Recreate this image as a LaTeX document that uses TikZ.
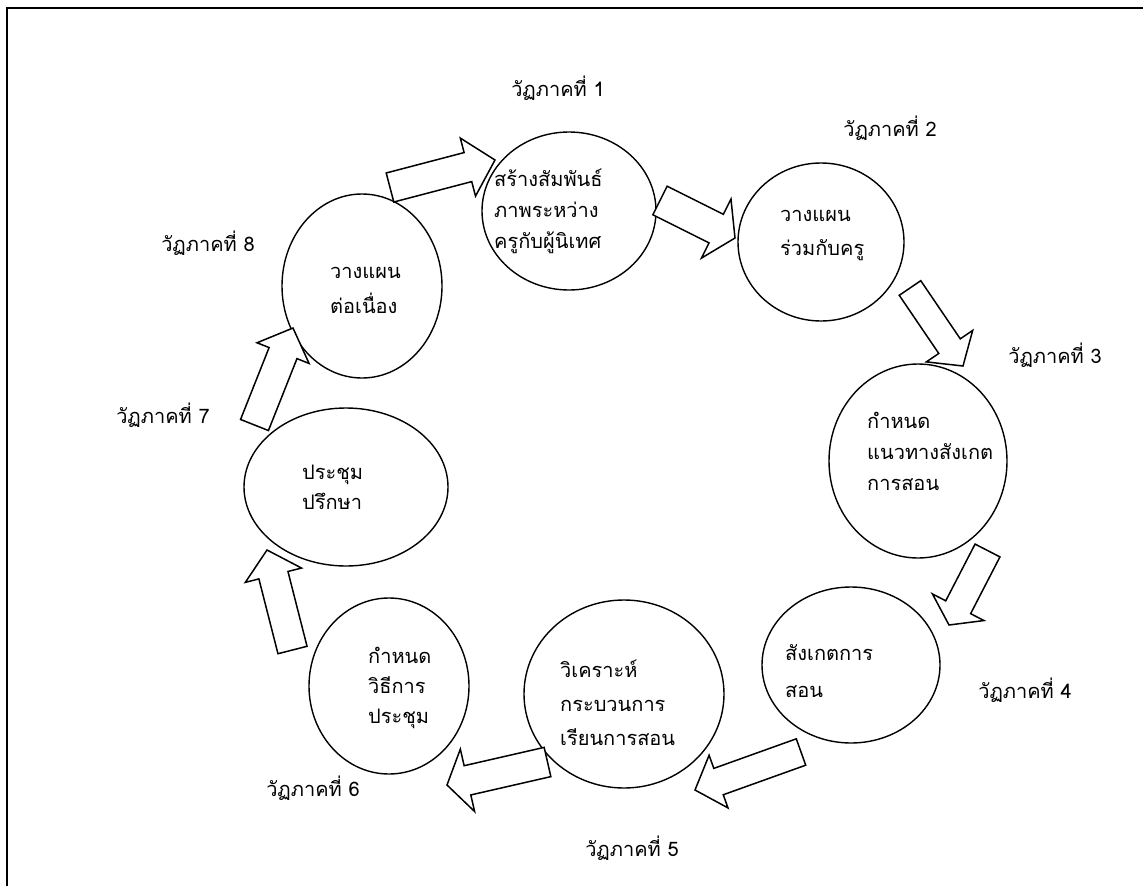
\documentclass[tikz,border=0pt]{standalone}
\usepackage{fontspec}
\newfontfamily\thaifont[Script=Thai]{Loma}
\usetikzlibrary{shapes.geometric,calc}
\tikzset{
  stage/.style={ellipse,draw,line width=1.4pt,inner sep=0pt},
  arrowbox/.style={draw,line width=1.5pt,fill=white,line join=miter},
  lbl/.style={font=\thaifont\fontsize{20}{24}\selectfont,inner sep=0pt},
  ctext/.style={font=\thaifont\fontsize{20}{#1}\selectfont,align=left,anchor=west,inner sep=0pt},
  ctext/.default=31,
}
\newcommand\blockarrow[6]{%
  \coordinate (#1-a) at #2;
  \coordinate (#1-t) at #3;
  \coordinate (#1-h) at ($(#1-t)!#6!(#1-a)$);
  \draw[arrowbox] ($(#1-a)!#4!90:(#1-t)$) -- ($(#1-h)!#4!-90:(#1-a)$) -- ($(#1-h)!#5!-90:(#1-a)$) -- (#1-t) -- ($(#1-h)!#5!90:(#1-a)$) -- ($(#1-h)!#4!90:(#1-a)$) -- ($(#1-a)!#4!-90:(#1-t)$) -- cycle;
}
\begin{document}
\begin{tikzpicture}[x=1pt,y=-1pt]
\useasboundingbox (0,0) rectangle (1143,886);
\draw[line width=2.5pt] (7,886) -- (7,8) -- (1143,8);
% stages
\node[stage,minimum width=174pt,minimum height=158pt] (c1) at (569,211) {};
\node[stage,minimum width=166pt,minimum height=158pt] (c2) at (821,242) {};
\node[stage,minimum width=178pt,minimum height=194pt] (c3) at (918,461) {};
\node[stage,minimum width=178pt,minimum height=156pt] (c4) at (851,665) {};
\node[stage,minimum width=200pt,minimum height=188pt] (c5) at (624,694) {};
\node[stage,minimum width=160pt,minimum height=176pt] (c6) at (389,686) {};
\node[stage,minimum width=204pt,minimum height=158pt] (c7) at (346,487) {};
\node[stage,minimum width=160pt,minimum height=184pt] (c8) at (362,286) {};
% arrows
\blockarrow{a1}{(390,187.5)}{(495,160)}{15pt}{30pt}{28pt}
\blockarrow{a2}{(660,200.5)}{(735,238)}{16pt}{33pt}{21pt}
\blockarrow{a3}{(910,288)}{(963,366)}{13pt}{28pt}{24pt}
\blockarrow{a4}{(987.5,550.5)}{(949,625)}{14pt}{29pt}{20pt}
\blockarrow{a5}{(801,752)}{(695,790)}{14pt}{28pt}{25pt}
\blockarrow{a6}{(547.5,762)}{(447,785)}{15pt}{32pt}{21pt}
\blockarrow{a7}{(292.5,650)}{(267,550)}{15pt}{29pt}{26pt}
\blockarrow{a8}{(254.5,425)}{(293,328)}{15pt}{28pt}{27pt}
% stage texts
\node[ctext] (t1) at (494,211) {สร้างสัมพันธ์\\ภาพระหว่าง\\ครูกับผู้นิเทศ};
\node[ctext=34] (t2) at (780,235) {วางแผน\\ร่วมกับครู};
\node[ctext] (t3) at (867,451) {กำหนด\\แนวทางสังเกต\\การสอน};
\node[ctext=37] (t4) at (785,671) {สังเกตการ\\สอน};
\node[ctext=34] (t5) at (560,703) {วิเคราะห์\\กระบวนการ\\เรียนการสอน};
\node[ctext=30] (t6) at (368,688) {กำหนด\\วิธีการ\\ประชุม};
\node[ctext=30] (t7) at (302,487) {ประชุม\\ปรึกษา};
\node[ctext=35] (t8) at (330,290) {วางแผน\\ต่อเนื่อง};
% phase labels
\node[lbl] (l1) at (558,88) {วัฏภาคที่ 1};
\node[lbl] (l2) at (890,128) {วัฏภาคที่ 2};
\node[lbl] (l3) at (1055,355) {วัฏภาคที่ 3};
\node[lbl] (l4) at (1025,690) {วัฏภาคที่ 4};
\node[lbl] (l5) at (632,848) {วัฏภาคที่ 5};
\node[lbl] (l6) at (313,788) {วัฏภาคที่ 6};
\node[lbl] (l7) at (163,415) {วัฏภาคที่ 7};
\node[lbl] (l8) at (208,243) {วัฏภาคที่ 8};
\end{tikzpicture}
\end{document}
